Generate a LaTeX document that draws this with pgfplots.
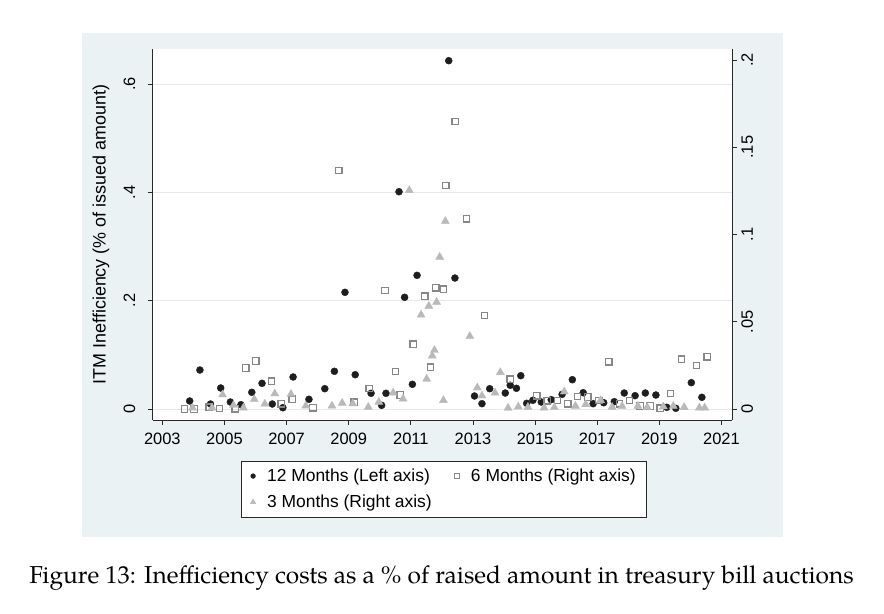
\documentclass[border=0pt]{standalone}
\usepackage{pgfplots}
\pgfplotsset{compat=1.18}
\usepackage{fontspec}
\setmainfont{Liberation Sans}
\newfontfamily\capfont{TeX Gyre Pagella}
\definecolor{bgblue}{RGB}{234,242,243}
\definecolor{gridc}{RGB}{226,234,236}
\definecolor{m12}{RGB}{30,30,30}
\definecolor{m6}{RGB}{135,135,135}
\definecolor{m3}{RGB}{185,185,185}
\definecolor{axc}{RGB}{40,40,40}
\begin{document}
\begin{tikzpicture}
\fill[white] (0bp,0bp) rectangle (884bp,614bp);
\fill[bgblue] (82bp,77bp) rectangle (783bp,581bp);
\fill[white] (152.7bp,194bp) rectangle (732bp,565bp);
\begin{axis}[
  at={(152.7bp,194bp)}, anchor=south west,
  scale only axis, width=579.3bp, height=371bp,
  xmin=2002.69, xmax=2021.34,
  ymin=-0.0203, ymax=0.6646,
  axis x line*=bottom, axis y line*=left,
  axis line style={-, axc, line width=0.8bp},
  tick align=outside, major tick length=5bp,
  tick style={axc, line width=0.8bp},
  /pgf/number format/1000 sep={},
  xtick={2003,2005,...,2021},
  xticklabel style={yshift=-5bp, font=\fontsize{16.5}{18}\selectfont, /pgf/number format/assume math mode=true},
  ytick={0,0.2,0.4,0.6}, yticklabels={0,.2,.4,.6},
  yticklabel style={xshift=-9bp, rotate=90, anchor=south, font=\fontsize{16.5}{18}\selectfont},
  ymajorgrids, grid style={gridc, line width=0.8bp},
  ylabel={ITM Inefficiency (\% of issued amount)},
  ylabel style={font=\fontsize{18}{20}\selectfont, at={(axis description cs:-0.0892,0.5)}, anchor=center},
  legend style={at={(axis description cs:0.503,-0.1097)}, anchor=north, draw=axc, line width=0.6bp, fill=white,
    font=\fontsize{17.5}{20}\selectfont, inner xsep=9bp, inner ysep=6bp, row sep=8bp},
  legend columns=2, legend cell align=left,
  legend style={/tikz/every even column/.append style={column sep=21bp}},
  legend image code/.code={\path[draw=none,fill=none] (0bp,-5bp) rectangle (12bp,5bp); \draw[#1] plot coordinates {(0bp,0bp)};},
]
\addplot[only marks, mark=*, mark size=3.5bp, color=m12, forget plot] coordinates {
(2003.88,0.0148) (2004.21,0.072) (2004.55,0.0092) (2004.88,0.0388) (2005.19,0.0129)
(2005.53,0.0079) (2005.88,0.0308) (2006.21,0.0474) (2006.54,0.0092) (2006.88,0.0024)
(2007.21,0.0591) (2007.72,0.0179) (2008.23,0.0375) (2008.54,0.0696) (2008.88,0.2154)
(2009.21,0.0633) (2009.72,0.029) (2010.06,0.0068) (2010.20,0.029) (2010.62,0.4011)
(2010.80,0.2062) (2011.05,0.0456) (2011.20,0.2468) (2012.22,0.643) (2012.42,0.2418)
(2013.05,0.024) (2013.29,0.0098) (2013.54,0.0375) (2014.04,0.0295) (2014.20,0.0438)
(2014.40,0.0382) (2014.54,0.0615) (2014.73,0.0105) (2014.93,0.0161) (2015.20,0.0129)
(2015.52,0.0172) (2015.87,0.0271) (2016.20,0.0541) (2016.55,0.0301) (2016.87,0.0098)
(2017.21,0.0116) (2017.55,0.0135) (2017.87,0.0295) (2018.22,0.0246) (2018.55,0.0295)
(2018.89,0.0258) (2019.24,0.0031) (2019.53,0.0013) (2020.03,0.0486) (2020.37,0.0216)
};
\addlegendimage{only marks, mark=*, mark size=2.3bp, color=m12}
\addlegendentry{12 Months (Left axis)}
\addlegendimage{only marks, mark=square, mark size=2.2bp, color=m6, mark options={line width=0.9bp}}
\addlegendentry{6 Months (Right axis)\hspace{6bp}}
\addlegendimage{only marks, mark=triangle*, mark size=3bp, color=m3}
\addlegendentry{3 Months (Right axis)}
\end{axis}
\begin{axis}[
  at={(152.7bp,194bp)}, anchor=south west,
  scale only axis, width=579.3bp, height=371bp,
  xmin=2002.69, xmax=2021.34,
  ymin=-0.0063, ymax=0.2063,
  hide x axis, axis y line*=right,
  axis line style={-, axc, line width=0.8bp},
  tick align=outside, major tick length=5bp,
  tick style={axc, line width=0.8bp},
  ytick={0,0.05,0.1,0.15,0.2}, yticklabels={0,.05,.1,.15,.2},
  yticklabel style={xshift=1bp, rotate=90, anchor=north, font=\fontsize{16.5}{18}\selectfont},
]
\addplot[only marks, mark=square, mark size=3.2bp, color=m6, mark options={line width=1.3bp}] coordinates {
(2003.71,0.0) (2004.02,0.0) (2004.51,0.0011) (2004.84,0.0003) (2005.35,0.0001)
(2005.69,0.0235) (2006.01,0.0275) (2006.51,0.0160) (2006.83,0.0030) (2007.18,0.0056)
(2007.85,0.0007) (2008.68,0.1366) (2009.18,0.0039) (2009.66,0.0117) (2010.17,0.0679)
(2010.51,0.0215) (2010.66,0.0080) (2011.08,0.0371) (2011.45,0.0646) (2011.63,0.0240)
(2011.80,0.0694) (2012.05,0.0687) (2012.13,0.1280) (2012.43,0.1648) (2012.79,0.1090)
(2013.37,0.0535) (2014.20,0.0170) (2015.06,0.0075) (2015.39,0.0047) (2015.72,0.0049)
(2016.05,0.0029) (2016.37,0.0072) (2016.70,0.0069) (2017.05,0.0048) (2017.37,0.0270)
(2017.72,0.0029) (2018.04,0.0049) (2018.38,0.0017) (2018.71,0.0017) (2019.03,0.0004)
(2019.36,0.0089) (2019.71,0.0285) (2020.20,0.0249) (2020.54,0.0299)
};
\addplot[only marks, mark=triangle*, mark size=4.6bp, color=m3] coordinates {
(2003.97,0.0007) (2004.60,0.0007) (2004.94,0.0082) (2005.29,0.0022) (2005.61,0.0007)
(2005.96,0.0056) (2006.30,0.0029) (2006.62,0.0088) (2007.14,0.0085) (2007.62,0.0018)
(2008.46,0.0018) (2008.79,0.0034) (2009.13,0.0031) (2009.63,0.0011) (2009.97,0.0040)
(2010.43,0.0093) (2010.75,0.0058) (2010.95,0.1253) (2011.33,0.0539) (2011.51,0.0172)
(2011.58,0.0590) (2011.69,0.0305) (2011.76,0.0337) (2011.83,0.0613) (2011.93,0.0871)
(2012.05,0.0050) (2012.11,0.1076) (2012.90,0.0417) (2013.14,0.0122) (2013.29,0.0076)
(2013.71,0.0093) (2013.88,0.0210) (2014.13,0.0006) (2014.46,0.0013) (2014.77,0.0011)
(2015.29,0.0007) (2015.62,0.0009) (2015.94,0.0099) (2016.30,0.0017) (2016.63,0.0026)
(2017.11,0.0050) (2017.48,0.0011) (2017.80,0.0016) (2018.31,0.0017) (2018.61,0.0010)
(2019.13,0.0014) (2019.45,0.0017) (2019.80,0.0010) (2020.29,0.0007) (2020.46,0.0007)
};
\end{axis}
\node[font=\capfont\fontsize{24.6}{28}\selectfont] at (441.5bp,36bp) {Figure 13: Inefficiency costs as a \% of raised amount in treasury bill auctions};
\end{tikzpicture}
\end{document}
